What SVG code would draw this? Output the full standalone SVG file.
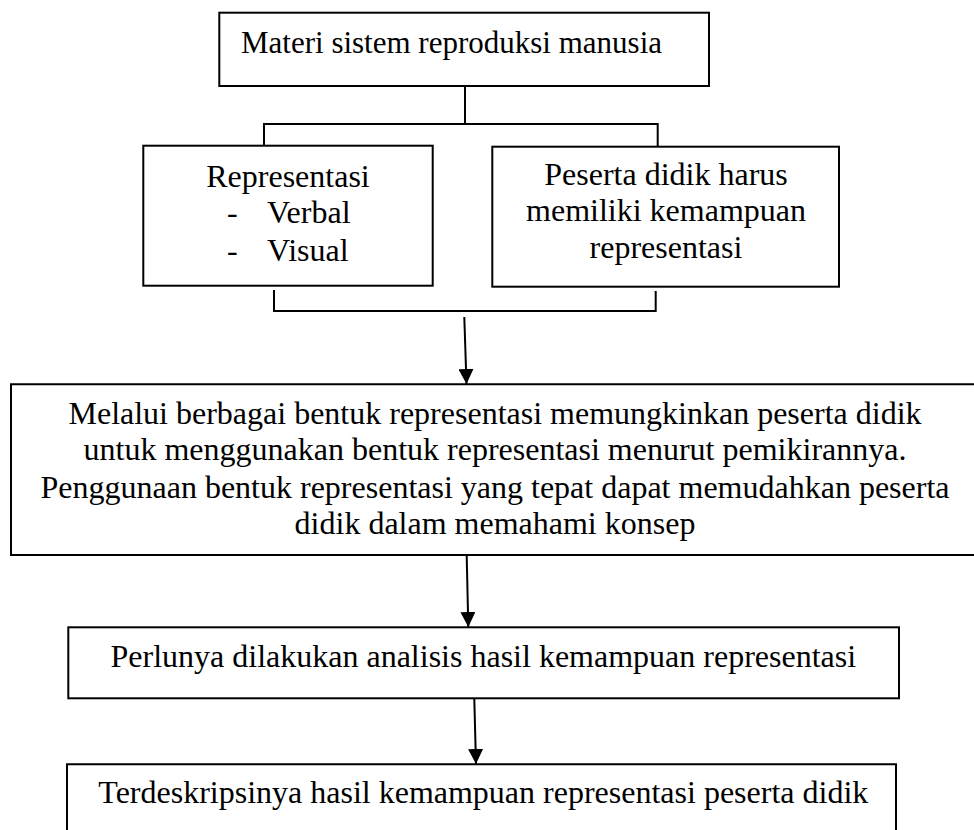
<svg xmlns="http://www.w3.org/2000/svg" width="974" height="830" viewBox="0 0 974 830">
<defs>
<style>
.box{fill:none;stroke:#000;stroke-width:2}
.ln{fill:none;stroke:#000;stroke-width:2}
.t{font-family:"Liberation Serif","Times New Roman",serif;font-size:32px;fill:#000}
.c{text-anchor:middle}
</style>
<marker id="ah" viewBox="0 0 15 15" refX="15" refY="7.5" markerWidth="15" markerHeight="15" markerUnits="userSpaceOnUse" orient="auto">
<path d="M0,0 L15,7.5 L0,15 Z" fill="#000"/>
</marker>
</defs>
<rect width="974" height="830" fill="#fff"/>
<g id="connectors">
<path class="ln" d="M465,86 V124 M264,145.7 V124 H657.7 V146.7"/>
<path class="ln" d="M274,290 V311 H655.7 V291"/>
<line class="ln" x1="464.3" y1="317" x2="466.5" y2="384" marker-end="url(#ah)"/>
<line class="ln" x1="466.7" y1="556" x2="468.3" y2="627" marker-end="url(#ah)"/>
<line class="ln" x1="474.3" y1="699" x2="476" y2="764" marker-end="url(#ah)"/>
</g>
<g id="n1">
<rect class="box" x="219.3" y="12.7" width="489.7" height="73.3"/>
<text class="t" x="241" y="53.3" style="font-size:31px">Materi sistem reproduksi manusia</text>
</g>
<g id="n2">
<rect class="box" x="143.3" y="145.7" width="289.4" height="140"/>
<text class="t c" x="288" y="187">Representasi</text>
<text class="t" x="227" y="223">-</text>
<text class="t" x="267" y="223">Verbal</text>
<text class="t" x="227" y="260.7">-</text>
<text class="t" x="267" y="260.7">Visual</text>
</g>
<g id="n3">
<rect class="box" x="492.3" y="146.7" width="346.7" height="140"/>
<text class="t c" x="666" y="185">Peserta didik harus</text>
<text class="t c" x="666" y="221">memiliki kemampuan</text>
<text class="t c" x="666" y="257.7">representasi</text>
</g>
<g id="n4">
<path class="box" d="M974,384.3 H11 V555 H974"/>
<text class="t c" x="495" y="424.3">Melalui berbagai bentuk representasi memungkinkan peserta didik</text>
<text class="t c" x="495" y="460">untuk menggunakan bentuk representasi menurut pemikirannya.</text>
<text class="t c" x="495" y="497.7">Penggunaan bentuk representasi yang tepat dapat memudahkan peserta</text>
<text class="t c" x="495" y="534">didik dalam memahami konsep</text>
</g>
<g id="n5">
<rect class="box" x="68.3" y="627.3" width="830.7" height="71"/>
<text class="t c" x="483.3" y="667.3">Perlunya dilakukan analisis hasil kemampuan representasi</text>
</g>
<g id="n6">
<path class="box" d="M67,831 V764.3 H896 V831"/>
<text class="t c" x="483.3" y="803.3">Terdeskripsinya hasil kemampuan representasi peserta didik</text>
</g>
</svg>
